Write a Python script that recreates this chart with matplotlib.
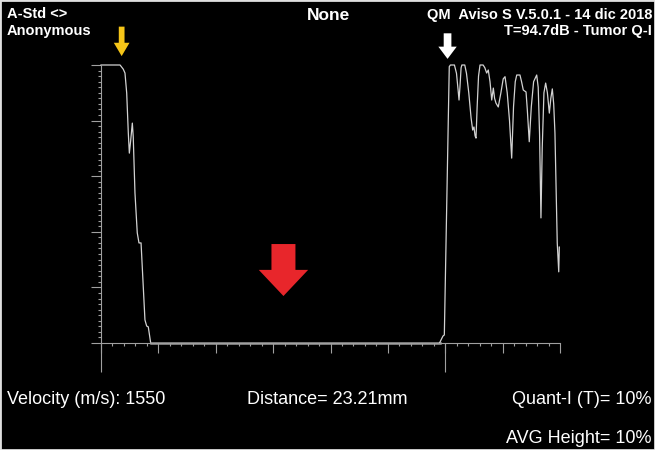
"""
A-scan echo trace (Aviso S, Quant-I mode), redrawn with matplotlib.
"""
import numpy as np
import matplotlib.pyplot as plt
from matplotlib.ticker import MultipleLocator

W, H = 655, 450  # px

# echo amplitude (%) vs time (us)
left_t = [0.0, 1.66, 1.94, 2.09, 2.24, 2.38, 2.47, 2.59, 2.73, 2.81, 2.96,
          3.16, 3.31, 3.49, 3.83, 3.98, 4.12, 4.33]
left_amp = [100, 100, 98.5, 97.1, 89.9, 75.5, 68.3, 73.0, 79.1, 74.1, 54.0,
            39.6, 36.0, 36.0, 8.3, 6.1, 5.8, 0]

base_t = [4.33, 29.5]
base_amp = [0, 0]

right_t = [29.5, 29.8, 29.92, 30.35, 30.45, 30.8, 30.98, 31.12, 31.20,
           31.28, 31.38, 31.45, 31.7, 31.85, 32.05, 32.25, 32.39, 32.5,
           32.6, 32.68, 32.78, 32.9, 33.03, 33.3, 33.45, 33.61, 33.75,
           33.9, 34.05, 34.19, 34.3, 34.42, 34.62, 34.85, 35.05, 35.21,
           35.4, 35.6, 35.79, 35.95, 36.1, 36.23, 36.51, 36.65, 36.80,
           37.04, 37.15, 37.32, 37.5, 37.7, 37.97, 38.1, 38.22, 38.34,
           38.45, 38.6, 38.75, 38.9, 39.07, 39.2, 39.33, 39.45, 39.56,
           39.76, 39.89, 39.94]
right_amp = [0, 2.5, 2.9, 99.4, 100, 100, 97, 91, 87.4,
             92, 99, 100, 100, 97, 90, 81, 76.6, 77.7,
             74.5, 73.7, 85, 96, 100, 100, 99, 97.1, 98.2,
             94, 87.4, 91.7, 88, 86.3, 84.9, 90, 95, 95.8,
             90, 80, 66.5, 85, 94, 96.4, 96.4, 94, 91.0,
             90.3, 84, 72.4, 85, 94, 96.4, 92, 75, 45.0,
             70, 90, 93.5, 90, 82.7, 88, 91.4, 86, 75.5,
             36.0, 25.6, 34.5]

gates = [0, 30]  # us, start / end gate
# arrow markers: x (us), tip y (%), top y (%), shaft w, head w (us), head len (%)
arrow_x = [1.80, 30.2, 15.9]
arrow_tip = [103.2, 102.2, 16.9]
arrow_top = [113.8, 111.4, 35.6]
arrow_shaft = [0.50, 0.67, 2.09]
arrow_head = [1.37, 1.60, 4.30]
arrow_hlen = [4.8, 4.4, 9.4]
arrow_col = ['#f5c518', '#ffffff', '#e8262b']


def arrow_poly(x, tip, top, sw, hw, hl):
    xs = [x - sw / 2, x + sw / 2, x + sw / 2, x + hw / 2, x, x - hw / 2, x - sw / 2]
    ys = [top, top, tip + hl, tip + hl, tip, tip + hl, tip + hl]
    return xs, ys


def main():
    plt.rcParams['font.family'] = ['Liberation Sans', 'DejaVu Sans']
    fig = plt.figure(figsize=(W / 100, H / 100), dpi=100, facecolor='black')
    ax = fig.add_axes([101 / W, (H - 343) / H, 459 / W, 278 / H])
    ax.set_facecolor('black')

    trace = '#d2d2d2'
    ax.plot(left_t, left_amp, color=trace, lw=0.9, clip_on=False)
    ax.plot(base_t, base_amp, color='#9c9c9c', lw=1.8, clip_on=False)
    ax.plot(right_t, right_amp, color=trace, lw=0.9, clip_on=False)

    ax.set_xlim(0, 40)
    ax.set_ylim(0, 100)
    ax.xaxis.set_major_locator(MultipleLocator(5))
    ax.xaxis.set_minor_locator(MultipleLocator(1))
    ax.yaxis.set_major_locator(MultipleLocator(20))
    ax.yaxis.set_minor_locator(MultipleLocator(2))
    ax.tick_params(which='both', colors='#a0a0a0', labelleft=False,
                   labelbottom=False, width=0.8, direction='out')
    ax.tick_params(which='major', length=7)
    ax.tick_params(which='minor', length=2.2)
    for side in ['top', 'right']:
        ax.spines[side].set_visible(False)
    for side in ['left', 'bottom']:
        ax.spines[side].set_color('#a0a0a0')
        ax.spines[side].set_linewidth(0.8)

    # gate cursors below the baseline
    ax.vlines(gates, -10.4, 0, color='#a0a0a0', lw=0.8, clip_on=False)

    for i in range(3):
        xs, ys = arrow_poly(arrow_x[i], arrow_tip[i], arrow_top[i],
                            arrow_shaft[i], arrow_head[i], arrow_hlen[i])
        ax.fill(xs, ys, color=arrow_col[i], lw=0, clip_on=False, zorder=5)

    def put(x, y, s, **kw):
        fig.text(x / W, 1 - y / H, s, color='white', va='baseline', **kw)

    put(7, 18, 'A-Std <>', fontsize=10.5, weight='bold')
    put(7, 35, 'Anonymous', fontsize=10.5, weight='bold')
    put(329, 20, 'None', fontsize=12.5, weight='bold', ha='center')
    put(652, 18.5, 'QM  Aviso S V.5.0.1 - 14 dic 2018', fontsize=10.5,
        weight='bold', ha='right')
    put(652, 35.5, 'T=94.7dB - Tumor Q-I', fontsize=10.5, weight='bold', ha='right')

    put(7, 404, 'Velocity (m/s): 1550', fontsize=13)
    put(247, 404, 'Distance= 23.21mm', fontsize=13)
    put(652, 404, 'Quant-I (T)= 10%', fontsize=13, ha='right')
    put(652, 443, 'AVG Height= 10%', fontsize=13, ha='right')

    # thin light frame of the screenshot
    fig.patches.append(plt.Rectangle((0, 0), 1, 1, transform=fig.transFigure,
                                     fill=False, edgecolor='#e0e0e0', lw=2))

    fig.savefig('out.png', dpi=100, facecolor='black')
    plt.close()


if __name__ == '__main__':
    main()
